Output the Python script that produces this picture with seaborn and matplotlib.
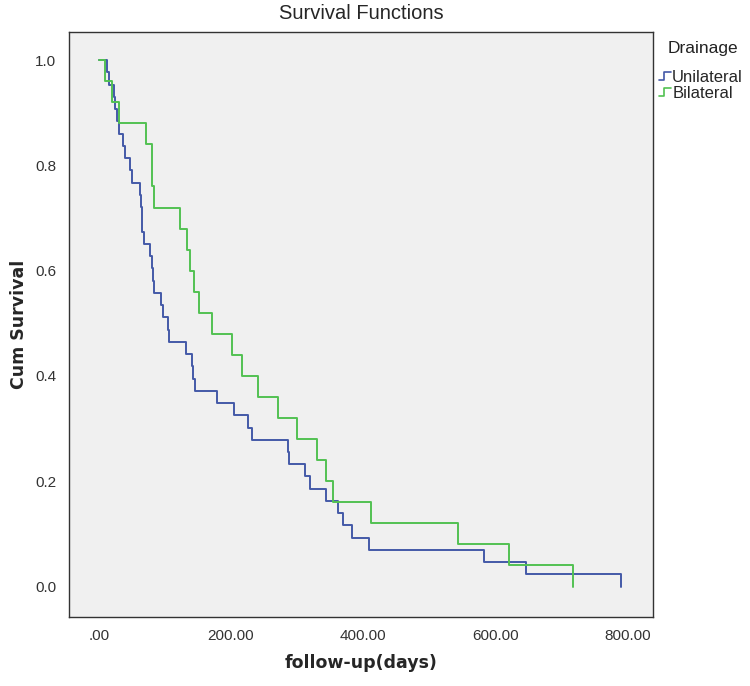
import pandas as pd
import matplotlib
matplotlib.use("Agg")
import matplotlib.pyplot as plt
import seaborn as sns
from matplotlib.lines import Line2D
from matplotlib.legend_handler import HandlerBase
from matplotlib.ticker import FixedLocator, FormatStrFormatter

# Kaplan-Meier steps (days, cumulative survival)
uni_days = [0, 12, 15, 23, 24, 27, 30, 37, 39, 47, 50, 62, 64, 65, 66, 69, 78, 81, 82, 83, 94,
            97, 105, 106, 132, 141, 142, 145, 179, 205, 225, 232, 286, 287, 312, 319, 344,
            362, 369, 383, 408, 583, 646, 789]
uni_surv = [1.0, .977, .953, .930, .907, .884, .860, .837, .814, .791, .767, .744, .721, .698,
            .674, .651, .628, .605, .581, .558, .535, .512, .488, .465, .442, .419, .395, .372,
            .349, .326, .302, .279, .256, .233, .209, .186, .163, .140, .116, .093, .070, .047,
            .023, 0.0]

bil_days = [0, 10, 20, 31, 71, 80, 81, 83, 123, 134, 138, 144, 151, 171, 201, 217, 240, 271,
            300, 330, 344, 354, 412, 543, 621, 717]
bil_surv = [1.0, .96, .92, .88, .84, .80, .76, .72, .68, .64, .60, .56, .52, .48, .44, .40,
            .36, .32, .28, .24, .20, .16, .12, .08, .04, 0.0]

groups = ["Unilateral", "Bilateral"]
colors = {"Unilateral": "#4459a8", "Bilateral": "#52c152"}

df = pd.concat([
    pd.DataFrame({"days": uni_days, "surv": uni_surv, "Drainage": "Unilateral"}),
    pd.DataFrame({"days": bil_days, "surv": bil_surv, "Drainage": "Bilateral"}),
])

sns.set_style("white")
plt.rcParams["font.family"] = ["Liberation Sans", "DejaVu Sans"]

fig = plt.figure(figsize=(7.5, 6.86), dpi=100)
ax = fig.add_axes([0.092, 0.1013, 0.7787, 0.8525])
ax.set_facecolor("#f0f0f0")

for g in groups:
    sub = df[df["Drainage"] == g]
    sns.lineplot(data=sub, x="days", y="surv", ax=ax, color=colors[g], lw=1.4,
                 drawstyle="steps-post", estimator=None, sort=False, legend=False)

ax.set_xlim(-45, 838)
ax.set_ylim(-0.057, 1.054)
ax.xaxis.set_major_locator(FixedLocator([0, 200, 400, 600, 800]))
ax.yaxis.set_major_locator(FixedLocator([0, .2, .4, .6, .8, 1.0]))
ax.set_xticklabels([".00", "200.00", "400.00", "600.00", "800.00"])
ax.yaxis.set_major_formatter(FormatStrFormatter("%.1f"))
ax.tick_params(axis="both", direction="out", length=7, width=1, color="#333333",
               labelsize=11, labelcolor="#333333", pad=2)
for s in ax.spines.values():
    s.set_color("#333333")
    s.set_linewidth(1)

ax.set_xlabel("follow-up(days)", fontsize=12.5, fontweight="bold",
              family="DejaVu Sans", labelpad=8)
ax.set_ylabel("Cum Survival", fontsize=12.5, fontweight="bold",
              family="DejaVu Sans", labelpad=5)
fig.text(0.482, 0.981, "Survival Functions", ha="center", va="center", fontsize=14.5)
fig.text(0.89, 0.93, "Drainage", ha="left", va="center", fontsize=12.5, color="#222222")


class StepHandler(HandlerBase):
    def create_artists(self, legend, orig_handle, xdescent, ydescent, width, height,
                       fontsize, trans):
        x0, y0 = -xdescent, -ydescent
        xs = [x0, x0 + width * 0.45, x0 + width * 0.45, x0 + width]
        ys = [y0 + height * 0.15, y0 + height * 0.15, y0 + height * 0.85, y0 + height * 0.85]
        ln = Line2D(xs, ys, color=orig_handle.get_color(), lw=1.2)
        ln.set_transform(trans)
        return [ln]


handles = [Line2D([], [], color=colors[g]) for g in groups]
leg = fig.legend(handles, groups, loc="upper left",
                 bbox_to_anchor=(0.878, 0.898), frameon=False, fontsize=12,
                 handlelength=0.72, handletextpad=0.1, labelspacing=0.05,
                 borderpad=0, borderaxespad=0,
                 handler_map={Line2D: StepHandler()})

fig.savefig("out.png", dpi=100)
